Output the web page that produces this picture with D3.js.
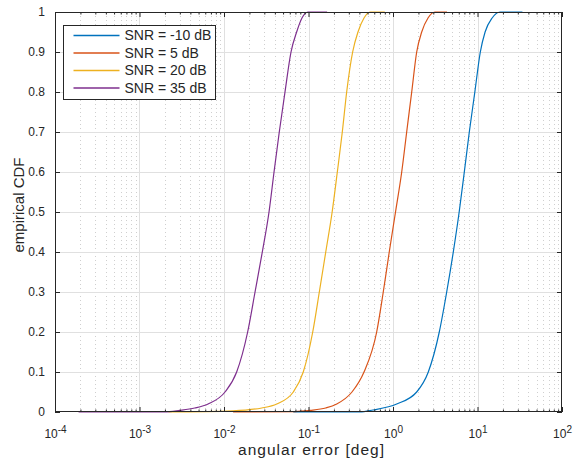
<!DOCTYPE html>
<html>
<head>
<meta charset="utf-8">
<script src="https://cdn.jsdelivr.net/npm/d3@7"></script>
<style>
  body { margin: 0; background: #fff; }
  svg { font-family: "Liberation Sans", Arial, sans-serif; }
</style>
</head>
<body>
<script>
// chart size
const width = 576;
const height = 465;
const margin = { top: 12, right: 14, bottom: 53, left: 55 };

// series labels and colours (matlab default order)
const snrLabels = ["SNR = -10 dB", "SNR = 5 dB", "SNR = 20 dB", "SNR = 35 dB"];
const colors = ["#0072BD", "#D95319", "#EDB120", "#7E2F8E"];

// angular error [deg] and empirical CDF
const errSnrM10 = [0.066, 0.406, 0.579, 1.106, 1.907, 2.617, 3.53, 4.32, 5.17, 6.07, 6.98, 8.0, 9.3, 10.8, 12.3, 14.9, 18.5, 34];
const cdfSnrM10 = [0, 0, 0.005, 0.02, 0.05, 0.1, 0.2, 0.3, 0.4, 0.5, 0.6, 0.7, 0.8, 0.9, 0.95, 0.985, 1, 1];

const errSnr5 = [0.0128, 0.07, 0.104, 0.16, 0.216, 0.327, 0.454, 0.641, 0.767, 0.903, 1.071, 1.268, 1.452, 1.665, 1.907, 2.186, 2.596, 3.14, 4.36];
const cdfSnr5 = [0, 0.001, 0.004, 0.01, 0.02, 0.05, 0.1, 0.2, 0.3, 0.4, 0.5, 0.6, 0.7, 0.8, 0.9, 0.95, 0.985, 1, 1];

const errSnr20 = [0.0022, 0.0128, 0.028, 0.0421, 0.0661, 0.0867, 0.1122, 0.1343, 0.160, 0.1905, 0.2193, 0.2512, 0.283, 0.333, 0.385, 0.454, 0.535, 0.80];
const cdfSnr20 = [0, 0.003, 0.01, 0.02, 0.05, 0.1, 0.2, 0.3, 0.4, 0.5, 0.6, 0.7, 0.8, 0.9, 0.95, 0.985, 1, 1];

const errSnr35 = [0.00019, 0.002, 0.003, 0.0045, 0.00648, 0.01028, 0.01412, 0.01905, 0.0233, 0.0284, 0.0341, 0.0391, 0.0451, 0.0527, 0.0621, 0.0724, 0.0837, 0.0986, 0.166];
const cdfSnr35 = [0, 0, 0.004, 0.01, 0.02, 0.05, 0.1, 0.2, 0.3, 0.4, 0.5, 0.6, 0.7, 0.8, 0.9, 0.95, 0.985, 1, 1];

// ticks
const xDecades = [1e-4, 1e-3, 1e-2, 1e-1, 1e0, 1e1, 1e2];
const xExponents = ["-4", "-3", "-2", "-1", "0", "1", "2"];
const yTicks = [0, 0.1, 0.2, 0.3, 0.4, 0.5, 0.6, 0.7, 0.8, 0.9, 1];

const series = [
  { err: errSnrM10, cdf: cdfSnrM10 },
  { err: errSnr5, cdf: cdfSnr5 },
  { err: errSnr20, cdf: cdfSnr20 },
  { err: errSnr35, cdf: cdfSnr35 },
];

// minor ticks 2..9 per decade
const xMinor = [];
xDecades.slice(0, -1).forEach((d) => {
  for (let k = 2; k <= 9; k++) xMinor.push(d * k);
});

const svg = d3
  .select("body")
  .append("svg")
  .attr("width", width)
  .attr("height", height);

const x = d3
  .scaleLog()
  .domain([1e-4, 1e2])
  .range([margin.left, width - margin.right]);

const y = d3
  .scaleLinear()
  .domain([0, 1])
  .range([height - margin.bottom, margin.top]);

const x0 = x.range()[0], x1 = x.range()[1];
const y0 = y.range()[0], y1 = y.range()[1];

// minor grid (dotted, x only)
svg
  .append("g")
  .selectAll("line")
  .data(xMinor)
  .enter()
  .append("line")
  .attr("x1", (d) => Math.round(x(d)) + 0.5)
  .attr("x2", (d) => Math.round(x(d)) + 0.5)
  .attr("y1", y1)
  .attr("y2", y0)
  .attr("stroke", "#cfcfcf")
  .attr("stroke-dasharray", "1,3");

// major grid
const grid = svg.append("g").attr("stroke", "#e0e0e0").attr("stroke-width", 1);
grid
  .selectAll(".gx")
  .data(xDecades.slice(1, -1))
  .enter()
  .append("line")
  .attr("x1", (d) => Math.round(x(d)) + 0.5)
  .attr("x2", (d) => Math.round(x(d)) + 0.5)
  .attr("y1", y1)
  .attr("y2", y0);
grid
  .selectAll(".gy")
  .data(yTicks.slice(1, -1))
  .enter()
  .append("line")
  .attr("y1", (d) => Math.round(y(d)) + 0.5)
  .attr("y2", (d) => Math.round(y(d)) + 0.5)
  .attr("x1", x0)
  .attr("x2", x1);

// curves
const line = d3
  .line()
  .x((d) => x(d[0]))
  .y((d) => y(d[1]))
  .curve(d3.curveMonotoneX);

series.forEach((s, i) => {
  svg
    .append("path")
    .datum(s.err.map((e, j) => [e, s.cdf[j]]))
    .attr("fill", "none")
    .attr("stroke", colors[i])
    .attr("stroke-width", 1.2)
    .attr("d", line);
});

// axes with inward ticks
const axisColor = "#262626";
function styleAxis(g) {
  g.select(".domain").remove();
  g.selectAll(".tick line").attr("stroke", axisColor);
  g.selectAll("text").attr("fill", axisColor).style("font-size", "12px");
}

svg
  .append("g")
  .attr("transform", `translate(0,${y0})`)
  .call(d3.axisBottom(x).tickValues(xMinor).tickSize(-2.5).tickFormat(""))
  .call(styleAxis);
svg
  .append("g")
  .attr("transform", `translate(0,${y1})`)
  .call(d3.axisTop(x).tickValues(xMinor).tickSize(-2.5).tickFormat(""))
  .call(styleAxis);
svg
  .append("g")
  .attr("transform", `translate(0,${y1})`)
  .call(d3.axisTop(x).tickValues(xDecades).tickSize(-5).tickFormat(""))
  .call(styleAxis);

const xAxis = svg
  .append("g")
  .attr("transform", `translate(0,${y0})`)
  .call(d3.axisBottom(x).tickValues(xDecades).tickSize(-5).tickFormat(""))
  .call(styleAxis);

// 10^n labels
xAxis.selectAll(".tick text").each(function (d, i) {
  const t = d3.select(this);
  t.attr("y", 25.5).attr("dy", 0);
  t.append("tspan").text("10");
  t.append("tspan")
    .attr("dy", "-0.45em")
    .style("font-size", "10px")
    .text(xExponents[i]);
});

svg
  .append("g")
  .attr("transform", `translate(${x0},0)`)
  .call(
    d3
      .axisLeft(y)
      .tickValues(yTicks)
      .tickSize(-5)
      .tickPadding(10)
      .tickFormat((d) => (d === 0 || d === 1 ? d3.format("d")(d) : d3.format(".1f")(d)))
  )
  .call(styleAxis);
svg
  .append("g")
  .attr("transform", `translate(${x1},0)`)
  .call(d3.axisRight(y).tickValues(yTicks).tickSize(-5).tickFormat(""))
  .call(styleAxis);

// box
svg
  .append("rect")
  .attr("x", x0 + 0.5)
  .attr("y", y1 + 0.5)
  .attr("width", x1 - x0 - 1)
  .attr("height", y0 - y1 - 1)
  .attr("fill", "none")
  .attr("stroke", axisColor)
  .attr("stroke-width", 1);

// axis labels
svg
  .append("text")
  .attr("x", 311)
  .attr("y", 455)
  .attr("text-anchor", "middle")
  .attr("textLength", 146)
  .attr("lengthAdjust", "spacing")
  .attr("fill", axisColor)
  .style("font-size", "15.5px")
  .text("angular error [deg]");

svg
  .append("text")
  .attr("transform", `translate(24,205) rotate(-90)`)
  .attr("text-anchor", "middle")
  .attr("fill", axisColor)
  .style("font-size", "15px")
  .text("empirical CDF");

// legend
const legend = svg.append("g").attr("transform", "translate(63.5,25.5)");
legend
  .append("rect")
  .attr("width", 152)
  .attr("height", 74)
  .attr("fill", "#fff")
  .attr("stroke", axisColor);

const row = legend
  .selectAll(".row")
  .data(snrLabels)
  .enter()
  .append("g")
  .attr("transform", (d, i) => `translate(0,${10 + i * 17.5})`);
row
  .append("line")
  .attr("x1", 10)
  .attr("x2", 56)
  .attr("stroke", (d, i) => colors[i])
  .attr("stroke-width", 1.3);
row
  .append("text")
  .attr("x", 61)
  .attr("dy", "0.35em")
  .attr("fill", axisColor)
  .style("font-size", "14px")
  .text((d) => d);
</script>
</body>
</html>
